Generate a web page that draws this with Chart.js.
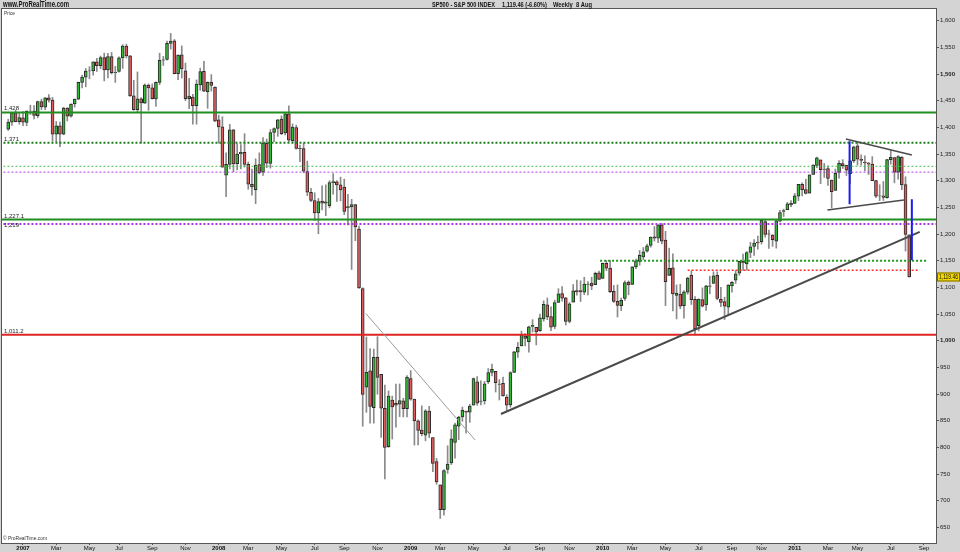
<!DOCTYPE html>
<html><head><meta charset="utf-8">
<script src="https://cdn.jsdelivr.net/npm/chart.js@4.4.0/dist/chart.umd.min.js"></script>
<style>html,body{margin:0;padding:0;background:#d4d4d4;}canvas{display:block;}</style>
</head><body>
<canvas id="c" width="960" height="552"></canvas>
<script>
// ---------- DATA ----------
const firstWeek = '2006-12-04';      // weekly candles, one per week from this Monday
const opens = [
1396.7,1409.8,1427.1,1410.8,
1418.0,1409.3,1430.7,1430.5,1422.0,1448.3,1438.0,1455.5,1451.0,1387.1,1402.8,1387.0,1436.1,1420.8,1443.8,1452.8,1484.3,1494.1,1505.6,1505.8,1522.8,1515.6,1530.6,1507.6,1532.9,1502.6,1504.7,1530.4,1552.5,1534.1,1458.9,1433.0,1453.4,1445.5,1479.4,1473.9,1453.5,1484.2,1525.8,1527.3,1557.6,1562.3,1500.6,1536.0,1505.8,1453.7,1456.7,1440.7,1479.6,1505.1,1467.0,1484.5,
1475.3,1414.0,1401.2,1310.4,1330.7,1395.4,1331.9,1350.0,1353.1,1330.5,1293.2,1283.2,1330.3,1315.9,1370.2,1332.2,1390.3,1397.8,1415.3,1389.4,1425.3,1375.0,1399.6,1360.8,1360.0,1317.2,1278.1,1262.9,1239.5,1261.8,1257.8,1253.3,1296.3,1298.1,1292.2,1287.8,1249.5,1250.9,1255.4,1209.1,1097.6,912.8,943.5,874.3,968.7,936.8,873.2,801.2,888.6,882.7,881.1,887.2,872.4,
929.2,890.4,849.6,832.5,823.1,868.2,818.6,773.3,729.6,683.4,758.8,771.0,809.1,839.7,856.9,868.3,866.2,879.2,922.9,886.1,887.0,923.3,940.4,942.5,918.1,919.9,894.3,879.6,940.6,978.6,990.2,1008.9,998.2,1026.6,1025.2,1018.7,1040.8,1067.1,1045.4,1026.9,1071.6,1088.2,1080.4,1036.2,1072.3,1094.1,1094.2,1091.1,1105.5,1107.9,1105.3,1127.5,
1116.6,1145.0,1136.0,1092.4,1073.9,1065.5,1079.1,1110.0,1105.4,1138.4,1148.5,1157.3,1167.7,1178.7,1194.9,1192.1,1217.1,1188.6,1122.3,1136.5,1084.8,1087.3,1065.8,1091.2,1122.8,1077.5,1028.1,1077.2,1066.9,1102.9,1107.5,1122.8,1077.5,1073.4,1062.9,1102.6,1113.4,1126.6,1148.6,1144.0,1165.3,1176.8,1184.7,1185.7,1223.2,1200.4,1198.1,1186.6,1223.9,1242.5,1245.8,1254.7,
1257.6,1270.8,1293.2,1283.3,1276.5,1311.9,1328.7,1338.9,1321.6,1322.7,1301.2,1281.7,1315.5,1332.0,1329.0,1313.4,1337.1,1365.2,1340.2,1334.8,1333.1,1331.1,1300.3,1271.3,1271.5,1268.4,1339.6,1343.3,1315.9,1344.3,1292.6,1198.5];
const highs = [
1415.3,1427.7,1431.8,1427.0,
1429.4,1431.2,1441.6,1440.7,1449.3,1453.0,1456.0,1461.6,1456.0,1411.0,1410.0,1437.7,1437.0,1444.0,1453.1,1484.8,1498.0,1510.3,1513.8,1522.8,1529.3,1533.7,1539.1,1538.7,1540.5,1514.3,1532.4,1555.1,1555.9,1534.6,1488.3,1503.9,1456.0,1481.5,1481.5,1481.5,1485.4,1539.0,1533.0,1561.9,1576.1,1564.7,1536.0,1552.8,1520.5,1492.1,1462.0,1488.9,1511.0,1523.6,1485.4,1498.9,
1476.0,1423.0,1420.0,1352.1,1405.6,1396.0,1369.2,1367.9,1388.3,1335.1,1321.7,1341.0,1352.2,1380.9,1378.0,1395.9,1399.2,1415.0,1421.6,1426.2,1440.2,1406.3,1404.1,1366.6,1370.6,1336.9,1285.6,1277.4,1266.8,1290.5,1292.2,1300.0,1313.2,1300.2,1306.7,1303.0,1274.4,1265.1,1255.4,1215.0,1099.3,1006.9,985.4,984.4,1007.5,936.8,917.0,906.0,896.2,918.6,918.9,892.0,934.7,
943.9,890.4,851.6,877.9,870.7,877.0,818.6,779.4,729.6,758.3,803.0,832.9,845.6,858.4,875.6,868.3,880.9,930.2,932.7,924.6,923.7,947.8,956.2,942.5,927.1,931.9,898.7,941.9,980.0,996.7,1018.0,1013.1,1027.6,1039.5,1025.2,1049.7,1074.8,1080.2,1063.4,1076.0,1097.6,1101.4,1081.1,1071.6,1105.4,1113.7,1112.4,1119.1,1110.7,1119.1,1128.5,1130.4,
1145.9,1150.4,1150.5,1103.7,1104.7,1080.0,1112.4,1112.3,1139.0,1153.0,1169.2,1174.7,1181.4,1194.7,1214.0,1217.3,1219.8,1205.1,1173.6,1163.1,1104.5,1105.7,1094.0,1119.1,1131.2,1082.6,1078.2,1099.1,1103.7,1121.0,1129.2,1129.2,1100.1,1081.6,1105.1,1110.9,1131.5,1148.9,1162.3,1167.2,1184.4,1189.4,1196.1,1227.1,1227.7,1207.4,1198.9,1225.6,1244.5,1246.7,1259.4,1262.6,
1276.2,1293.2,1296.1,1302.7,1311.0,1330.3,1344.1,1338.9,1332.3,1327.7,1301.2,1321.7,1337.9,1339.5,1329.0,1338.0,1364.6,1370.6,1348.4,1346.8,1334.5,1345.2,1300.6,1292.5,1298.6,1340.0,1356.5,1343.3,1347.0,1345.0,1307.4,1198.5];
const lows = [
1394.1,1403.5,1410.3,1406.0,
1403.0,1403.0,1424.0,1416.0,1418.0,1433.4,1433.0,1447.0,1374.0,1373.0,1364.0,1386.0,1412.0,1419.0,1438.0,1452.0,1474.0,1476.0,1491.0,1498.0,1505.0,1510.0,1487.0,1492.6,1500.0,1484.2,1503.3,1510.4,1530.0,1458.0,1432.0,1429.0,1370.6,1445.0,1432.0,1453.0,1439.3,1480.0,1516.0,1526.0,1546.7,1500.3,1489.6,1492.5,1450.0,1435.0,1406.1,1406.0,1469.5,1467.0,1435.7,1468.0,
1411.2,1370.2,1325.0,1270.1,1322.0,1316.8,1320.3,1322.2,1325.5,1284.0,1272.7,1257.0,1312.8,1310.1,1324.4,1323.6,1373.0,1383.1,1386.3,1386.0,1373.1,1373.0,1359.0,1335.6,1314.8,1272.0,1260.7,1225.4,1200.4,1245.3,1234.4,1249.1,1274.9,1261.3,1262.2,1236.4,1217.2,1133.5,1187.5,1098.1,839.8,865.8,845.3,845.3,899.7,818.7,741.0,800.0,815.7,837.9,857.7,857.1,857.3,
888.3,804.3,804.5,821.7,812.3,818.4,754.3,731.0,666.8,672.9,751.2,767.8,779.8,814.5,848.9,826.8,847.1,879.2,878.9,879.6,881.0,919.6,934.2,903.8,888.9,896.0,869.3,875.3,940.6,968.7,990.2,990.2,978.5,1016.2,992.0,1017.6,1036.5,1039.5,1019.0,1022.4,1071.5,1074.3,1029.4,1033.4,1072.3,1085.3,1073.6,1086.3,1085.9,1095.7,1105.3,1114.8,
1116.6,1131.4,1090.2,1071.6,1044.5,1056.5,1075.5,1086.0,1105.4,1134.9,1141.5,1152.0,1165.8,1175.3,1186.8,1183.7,1181.6,1065.8,1122.3,1055.9,1040.8,1060.0,1042.2,1087.2,1067.9,1010.9,1018.4,1063.3,1056.9,1088.0,1107.5,1076.6,1063.9,1039.7,1047.7,1091.2,1107.4,1122.7,1131.9,1132.1,1155.7,1159.7,1171.7,1181.3,1194.1,1173.0,1176.9,1173.6,1222.5,1232.9,1245.8,1251.5,
1257.6,1262.7,1271.3,1275.1,1276.5,1311.7,1324.6,1294.3,1306.1,1291.0,1249.1,1281.7,1304.7,1322.9,1309.7,1294.7,1334.0,1329.2,1329.2,1318.5,1311.8,1300.2,1268.2,1262.7,1262.9,1267.4,1330.9,1295.9,1302.7,1282.9,1168.1,1119.3];
const closes = [
1409.8,1427.1,1410.8,1418.3,
1409.7,1430.7,1430.5,1422.2,1448.4,1438.1,1455.5,1451.2,1387.2,1402.8,1387.0,1436.1,1420.9,1443.8,1452.9,1484.4,1494.1,1505.6,1505.9,1522.8,1515.7,1530.6,1507.7,1532.9,1502.6,1503.4,1530.4,1552.5,1534.1,1459.0,1433.1,1453.6,1445.9,1479.4,1474.0,1453.6,1484.3,1525.8,1526.8,1557.6,1561.8,1500.6,1535.3,1509.7,1453.7,1458.7,1440.7,1481.1,1504.7,1468.0,1484.5,1478.5,
1411.6,1401.0,1325.2,1330.6,1395.4,1331.3,1350.0,1353.1,1330.6,1293.4,1288.1,1329.5,1315.2,1370.4,1332.8,1390.3,1397.8,1413.9,1388.3,1425.4,1375.9,1400.4,1360.7,1360.0,1317.9,1278.4,1262.9,1239.5,1260.7,1257.8,1260.3,1296.3,1298.2,1292.2,1282.8,1242.3,1251.7,1255.1,1213.3,1099.2,899.2,940.6,876.8,968.8,931.0,873.3,800.0,896.2,876.1,879.1,887.9,872.8,931.8,
890.4,850.1,832.0,825.9,868.6,826.8,770.1,735.1,683.4,756.6,768.5,815.9,842.5,856.6,869.6,866.2,877.5,929.2,882.9,887.0,919.1,940.1,946.2,921.2,918.9,896.4,879.1,940.4,979.3,987.5,1010.5,1004.1,1026.1,1028.9,1016.4,1042.7,1068.3,1044.4,1025.2,1071.5,1087.7,1079.6,1036.2,1069.3,1093.5,1091.4,1091.5,1106.0,1106.4,1102.5,1126.5,1115.1,
1145.0,1136.0,1091.8,1073.9,1066.2,1075.5,1109.2,1104.5,1138.7,1150.0,1159.9,1166.6,1178.1,1194.4,1192.1,1217.3,1186.7,1110.9,1135.7,1087.7,1089.4,1064.9,1091.6,1117.5,1076.8,1022.6,1078.0,1064.9,1102.7,1101.6,1121.6,1079.3,1071.7,1064.6,1104.5,1109.6,1125.6,1148.7,1146.2,1165.2,1176.2,1183.1,1183.3,1225.9,1199.2,1199.7,1189.4,1224.7,1240.4,1243.9,1256.8,1257.6,
1271.5,1293.2,1283.4,1276.3,1310.9,1329.2,1343.0,1320.9,1321.2,1304.3,1279.2,1313.8,1332.4,1328.2,1319.7,1337.4,1363.6,1340.2,1337.8,1333.3,1331.1,1300.2,1271.0,1271.5,1268.5,1339.7,1343.8,1316.1,1345.0,1292.3,1199.4,1119.5];

const yTicks = [650,700,750,800,850,900,950,1000,1050,1100,1150,1200,1250,1300,1350,1400,1450,1500,1550,1600];
const xTickDates = ['2007-01-01','2007-03-05','2007-05-07','2007-07-02','2007-09-03','2007-11-05',
  '2008-01-07','2008-03-03','2008-05-05','2008-07-07','2008-09-01','2008-11-03',
  '2009-01-05','2009-03-02','2009-05-04','2009-07-06','2009-09-07','2009-11-02',
  '2010-01-04','2010-03-01','2010-05-03','2010-07-05','2010-09-06','2010-11-01',
  '2011-01-03','2011-03-07','2011-05-02','2011-07-04','2011-09-05'];
const xTickLabels = ['2007','Mar','May','Jul','Sep','Nov','2008','Mar','May','Jul','Sep','Nov',
  '2009','Mar','May','Jul','Sep','Nov','2010','Mar','May','Jul','Sep','Nov','2011','Mar','May','Jul','Sep'];

// horizontal support / resistance levels (full width)
const levelPrices = [1428, 1371, 1327, 1316, 1227.1, 1219, 1011.2];
const levelLabels = ['1,428', '1,371', '', '', '1,227.1', '1,219', '1,011.2'];
// partial levels: start date, end date, price
const shortLevelStart = ['2009-12-30', '2010-06-14'];
const shortLevelEnd   = ['2011-09-10', '2011-08-28'];
const shortLevelPrice = [1150, 1132];
// trend lines: start date/price, end date/price
const trendStartDate  = ['2008-10-12', '2009-06-25', '2011-04-10', '2011-03-06'];
const trendStartPrice = [1051, 862.6, 1378, 1245];
const trendEndDate    = ['2009-05-07', '2011-08-28', '2011-08-13', '2011-07-29'];
const trendEndPrice   = [814, 1204, 1348, 1264];
// blue vertical ranges: date, from price, to price
const rangeDate = ['2011-04-17', '2011-08-13'];
const rangeFrom = [1374, 1265];
const rangeTo   = [1256, 1151];
const lastPrice = 1119.46;
const titleText = ['SP500 - S&P 500 INDEX', '1,119.46 (-6.60%)', 'Weekly  8 Aug'];

// ---------- HELPERS ----------
const DAY0 = Date.UTC(2007,0,1);
function dayNum(s){ const [y,m,d]=s.split('-').map(Number); return (Date.UTC(y,m-1,d)-DAY0)/86400000; }
const week0 = dayNum(firstWeek);
const weekDays = closes.map((_, i) => week0 + 7*i);
const xTickDays = xTickDates.map(dayNum);
const X_MIN = -39.8, X_MAX = 1730.8, Y_MIN = 620.75, Y_MAX = 1621.9;

const GREEN = '#35b835', RED = '#e05c5c';
const bodyColors = closes.map((c,i)=> c >= opens[i] ? GREEN : RED);

const FONT = 'Liberation Sans';

// styles kept separately from data
const levelStyles = [
  {color:'#1f8f1f', width:2, dash:[]},
  {color:'#1b7f1b', width:2, dash:[2,2]},
  {color:'#4cc04c', width:1, dash:[2,2]},
  {color:'#b03ee6', width:1, dash:[2,2]},
  {color:'#1f8f1f', width:2, dash:[]},
  {color:'#a936e6', width:2, dash:[2,2]},
  {color:'#e02424', width:2, dash:[]}
];
const shortStyles = [
  {color:'#1f9a1f', width:2, dash:[2,2]},
  {color:'#ff2a2a', width:1.5, dash:[2,2]}
];
const trendStyles = [
  {color:'#9a9a9a', width:1},
  {color:'#4a4a4a', width:2},
  {color:'#4a4a4a', width:1.5},
  {color:'#4a4a4a', width:1.5}
];

const datasets = [];
datasets.push({
  type:'bar', label:'wicks', order:4, grouped:false,
  data: weekDays.map((d,i)=>({x:d, y:[lows[i], highs[i]]})),
  backgroundColor:'#8a8a8a', borderWidth:0, barThickness:1
});
datasets.push({
  type:'bar', label:'bodies', order:3, grouped:false,
  data: weekDays.map((d,i)=>({x:d, y:[opens[i], closes[i]]})),
  backgroundColor: bodyColors, borderColor:'#2a2a2a', borderWidth:1, borderSkipped:false, barThickness:3
});
levelPrices.forEach((p,i)=>{
  const s = levelStyles[i];
  datasets.push({type:'line', order:2, clip:0, data:[{x:X_MIN-20,y:p},{x:X_MAX+20,y:p}],
    borderColor:s.color, borderWidth:s.width, borderDash:s.dash, pointRadius:0, fill:false});
});
shortLevelPrice.forEach((p,i)=>{
  const s = shortStyles[i];
  datasets.push({type:'line', order:2, clip:0, data:[{x:dayNum(shortLevelStart[i]),y:p},{x:dayNum(shortLevelEnd[i]),y:p}],
    borderColor:s.color, borderWidth:s.width, borderDash:s.dash, pointRadius:0, fill:false});
});
trendStartDate.forEach((sd,i)=>{
  const s = trendStyles[i];
  datasets.push({type:'line', order:1, clip:0, data:[{x:dayNum(sd),y:trendStartPrice[i]},{x:dayNum(trendEndDate[i]),y:trendEndPrice[i]}],
    borderColor:s.color, borderWidth:s.width, pointRadius:0, fill:false});
});
rangeDate.forEach((d,i)=>{
  datasets.push({type:'line', order:0, clip:0, data:[{x:dayNum(d),y:rangeFrom[i]},{x:dayNum(d),y:rangeTo[i]}],
    borderColor:'#1c1cf0', borderWidth:2, pointRadius:0, fill:false});
});

function fitText(ctx, text, x, y, w, font){
  ctx.save(); ctx.font = font;
  const m = ctx.measureText(text).width;
  ctx.translate(x, y); ctx.scale(w/m, 1); ctx.fillText(text, 0, 0); ctx.restore();
}

const decor = {
  id:'decor',
  beforeDraw(chart){
    const {ctx, chartArea:a} = chart;
    ctx.save();
    ctx.fillStyle='#d4d4d4'; ctx.fillRect(0,0,chart.width,chart.height);
    ctx.fillStyle='#ffffff'; ctx.fillRect(a.left,a.top,a.right-a.left,a.bottom-a.top);
    ctx.restore();
  },
  afterDatasetsDraw(chart){
    const {ctx} = chart; const ys = chart.scales.y;
    ctx.save(); ctx.fillStyle='#222'; ctx.textBaseline='alphabetic';
    ctx.font = '6px "'+FONT+'"';
    levelPrices.forEach((p,i)=>{
      if(!levelLabels[i]) return;
      const py = ys.getPixelForValue(p);
      const off = levelLabels[i]==='1,219' ? 3.5 : -2;
      ctx.fillText(levelLabels[i], 4, py + off);
    });
    ctx.restore();
  },
  afterDraw(chart){
    const {ctx, chartArea:a} = chart; const ys = chart.scales.y;
    ctx.save();
    ctx.strokeStyle='#555'; ctx.lineWidth=1;
    ctx.strokeRect(a.left-0.5, a.top-0.5, a.right-a.left+1, a.bottom-a.top+1);
    ctx.fillStyle='#111'; ctx.textBaseline='middle';
    fitText(ctx, 'www.ProRealTime.com', 3, 4.6, 66, 'bold 9px "'+FONT+'"');
    fitText(ctx, titleText[0], 432, 4.6, 63, 'bold 8px "'+FONT+'"');
    fitText(ctx, titleText[1], 502, 4.6, 45, 'bold 8px "'+FONT+'"');
    fitText(ctx, titleText[2], 553, 4.6, 39, 'bold 8px "'+FONT+'"');
    ctx.fillStyle='#333';
    fitText(ctx, 'Price', 4, 13, 11, '6px "'+FONT+'"');
    fitText(ctx, '\u00A9 ProRealTime.com', 3, 538, 44, '6px "'+FONT+'"');
    // last price marker
    const py = ys.getPixelForValue(lastPrice);
    ctx.fillStyle='#f2d600'; ctx.fillRect(937, py-4.5, 23, 9);
    ctx.strokeStyle='#7a6a00'; ctx.strokeRect(937.5, py-4, 22, 8);
    ctx.fillStyle='#111';
    fitText(ctx, lastPrice.toLocaleString('en-US',{minimumFractionDigits:2}), 939, py+0.5, 19, '7px "'+FONT+'"');
    ctx.restore();
  }
};

new Chart(document.getElementById('c'), {
  type:'bar',
  data:{datasets},
  options:{
    responsive:false, animation:false, devicePixelRatio:1,
    layout:{padding:{left:2, top:9, right:0, bottom:0}},
    plugins:{legend:{display:false}, tooltip:{enabled:false}, title:{display:false}},
    scales:{
      x:{type:'linear', position:'bottom', min:X_MIN, max:X_MAX, offset:false,
        afterBuildTicks:s=>{ s.ticks = xTickDays.map(v=>({value:v})); },
        afterFit:s=>{ s.height = 9; },
        grid:{drawOnChartArea:false, drawTicks:true, tickLength:2, color:'#555', offset:false},
        border:{display:false},
        ticks:{autoSkip:false, maxRotation:0, minRotation:0, padding:0, color:'#111',
          font:c=>({family:FONT, size:6, weight:/^\d{4}$/.test(xTickLabels[c.index]||'')?'bold':'normal'}),
          callback:(v,i)=>xTickLabels[i]}
      },
      y:{type:'linear', position:'right', min:Y_MIN, max:Y_MAX,
        afterBuildTicks:s=>{ s.ticks = yTicks.map(v=>({value:v})); },
        afterFit:s=>{ s.width = 24; },
        grid:{drawOnChartArea:false, drawTicks:true, tickLength:3, color:'#555'},
        border:{display:false},
        ticks:{padding:1, color:'#222',
          font:c=>({family:FONT, size:6, weight:(c.tick && c.tick.value%500===0)?'bold':'normal'}),
          callback:v=>Number(v).toLocaleString('en-US')}
      }
    }
  },
  plugins:[decor]
});
</script>
</body></html>
